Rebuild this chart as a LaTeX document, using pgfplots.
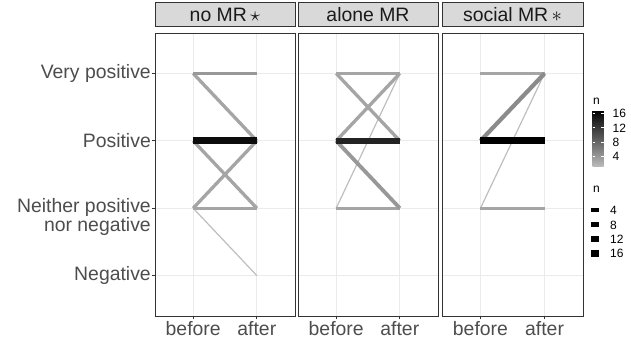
\documentclass[border=0pt]{standalone}
\usepackage{pgfplots}
\pgfplotsset{compat=1.18}
\usepackage{fontspec}
\setmainfont{Liberation Sans}
\definecolor{gridgrey}{HTML}{EBEBEB}
\definecolor{bordergrey}{HTML}{333333}
\definecolor{stripfill}{HTML}{D9D9D9}
\definecolor{ticktext}{HTML}{4D4D4D}
\definecolor{striptext}{HTML}{1A1A1A}
\newcommand\axfont{\fontsize{19.4pt}{14pt}\selectfont}
\newcommand\legfont{\fontsize{12pt}{12pt}\selectfont}
% segment: before level, after level, n
\newcommand\seg[3]{%
  \pgfmathsetmacro\lw{1.2*(1+5*sqrt((#3-1)/16))}%
  \edef\tmp{\noexpand\addplot[mesh, point meta=explicit, line width=\lw pt, forget plot] coordinates {(1,#1) [#3] (2,#2) [#3]};}%
  \tmp}
\pgfplotsset{
  panel/.style={
    width=140pt, height=283pt, scale only axis,
    xmin=0.4, xmax=2.6, ymin=0.4, ymax=4.6,
    xtick={1,2}, xticklabels={before,after},
    ytick={1,2,3,4},
    grid=major, major grid style={draw=gridgrey, line width=0.8pt},
    axis line style={draw=bordergrey, line width=0.9pt},
    tick style={draw=bordergrey, line width=0.9pt},
    major tick length=3.5pt, tick align=outside,
    xtick pos=bottom, ytick pos=left,
    xticklabel style={font=\axfont, text=ticktext, inner sep=1.5pt},
    yticklabel style={font=\axfont, text=ticktext, inner sep=0.5pt},
    colormap={ggrey}{rgb255=(190,190,190) rgb255=(139,139,139) rgb255=(91,91,91) rgb255=(47,47,47) rgb255=(0,0,0)},
    point meta min=1, point meta max=17,
    title style={at={(0.5,1)}, anchor=south, yshift=0pt, fill=stripfill, draw=bordergrey, line width=0.9pt, minimum width=140pt, minimum height=24pt, inner sep=0pt, font=\axfont, text=striptext},
  },
}
\begin{document}
\begin{tikzpicture}
\path[use as bounding box] (0,0) rectangle (631pt,339pt);
% panel 1
\begin{axis}[panel, at={(155pt,23pt)}, anchor=south west,
  title={no MR\,$\star$},
  yticklabels={Negative,{\raisebox{-14pt}[0pt][0pt]{\begin{tabular}{@{}r@{}}Neither positive\\nor negative\end{tabular}}},Positive,Very positive}]
\seg{2}{1}{1}
\seg{4}{3}{3}
\seg{3}{2}{3}
\seg{2}{3}{3}
\seg{2}{2}{3}
\seg{4}{4}{4}
\seg{3}{3}{16}
\end{axis}
% panel 2
\begin{axis}[panel, at={(298pt,23pt)}, anchor=south west,
  title={alone MR},
  ytick style={draw=none}, yticklabels={{},{},{},{}}]
\seg{2}{4}{1}
\seg{4}{4}{3}
\seg{4}{3}{3}
\seg{3}{4}{3}
\seg{2}{2}{3}
\seg{3}{2}{4}
\seg{3}{3}{14}
\end{axis}
% panel 3
\begin{axis}[panel, at={(442pt,23pt)}, anchor=south west, width=141pt,
  title={social MR\,$\ast$}, title style={minimum width=141pt},
  ytick style={draw=none}, yticklabels={{},{},{},{}},
  colorbar right,
  colorbar style={
    at={(parent axis.north east)}, anchor=north west, xshift=1pt, yshift=-77pt,
    width=11pt, height=57pt, scale only axis, axis on top,
    axis line style={draw=none},
    ytick={4,8,12,16}, ytick pos=both, yticklabel pos=right,
    major tick length=2.2pt, tick align=inside,
    ytick style={draw=white, line width=0.8pt},
    /pgf/number format/assume math mode=true,
    yticklabel style={font=\legfont, text=black, inner sep=0pt, xshift=9pt},
  },
  legend cell align=left,
  legend image code/.code={\path[draw=none, fill=none] (0pt,-4.5pt) rectangle (8pt,4.5pt);
    \begin{pgfinterruptboundingbox}\draw[#1] (0pt,0pt) -- (8pt,0pt);\end{pgfinterruptboundingbox}},
  legend style={at={(1,1)}, anchor=north west, xshift=8pt, yshift=-172.5pt,
    draw=none, fill=none, inner sep=0pt, row sep=5.4pt, column sep=11pt,
    font=\legfont, nodes={inner sep=0pt, text height=9pt, text depth=0pt}},
]
\seg{2}{4}{1}
\seg{4}{4}{3}
\seg{2}{2}{3}
\seg{3}{4}{5}
\seg{3}{3}{17}
\addlegendimage{black, line width=3.9pt}\addlegendentry{4}
\addlegendimage{black, line width=5.2pt}\addlegendentry{8}
\addlegendimage{black, line width=6.2pt}\addlegendentry{12}
\addlegendimage{black, line width=7.0pt}\addlegendentry{16}
\end{axis}
\node[anchor=base west, inner sep=0pt, font=\legfont] at (593pt,234pt) {n};
\node[anchor=base west, inner sep=0pt, font=\legfont] at (593pt,146pt) {n};
\end{tikzpicture}
\end{document}
